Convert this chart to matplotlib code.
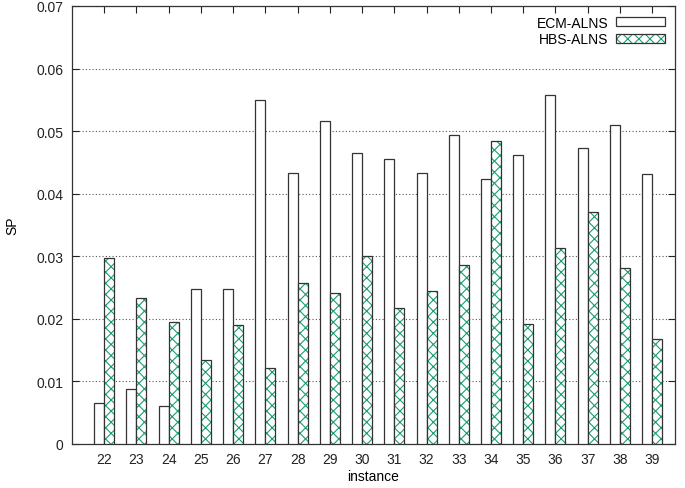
import numpy as np
import matplotlib.pyplot as plt
from matplotlib.patches import Patch
from matplotlib.legend_handler import HandlerTuple

plt.rcParams['font.family'] = ['Liberation Sans', 'DejaVu Sans']
plt.rcParams['hatch.linewidth'] = 0.8

instances = [22, 23, 24, 25, 26, 27, 28, 29, 30, 31, 32, 33, 34, 35, 36, 37, 38, 39]
ecm_alns = [0.0065, 0.0088, 0.0061, 0.0247, 0.0247, 0.0550, 0.0433, 0.0516, 0.0465,
            0.0456, 0.0433, 0.0494, 0.0424, 0.0462, 0.0557, 0.0473, 0.0510, 0.0431]
hbs_alns = [0.0297, 0.0233, 0.0195, 0.0135, 0.0190, 0.0122, 0.0257, 0.0241, 0.0300,
            0.0217, 0.0244, 0.0286, 0.0484, 0.0191, 0.0314, 0.0371, 0.0281, 0.0168]
yticks = [0, 0.01, 0.02, 0.03, 0.04, 0.05, 0.06, 0.07]
ytick_labels = ['0', '0.01', '0.02', '0.03', '0.04', '0.05', '0.06', '0.07']

green = '#1a9e6e'
dark = '#333333'

fig = plt.figure(figsize=(6.85, 4.89), dpi=100)
ax = fig.add_axes([0.105, 0.09, 0.88, 0.8957])

x = np.array(instances)
w = 0.31
ax.bar(x - w / 2, ecm_alns, w, color='white', edgecolor=dark, linewidth=0.9, zorder=3)
ax.bar(x + w / 2, hbs_alns, w, color='white', edgecolor=green, hatch='xxx',
       linewidth=0, zorder=3)
# dark outline on top of the hatched bars
ax.bar(x + w / 2, hbs_alns, w, fill=False, edgecolor=dark, linewidth=0.9, zorder=4)

ax.set_xlim(21, 39.7)
ax.set_ylim(0, 0.07)
ax.set_xticks(instances)
ax.set_xticklabels([str(i) for i in instances])
ax.set_yticks(yticks)
ax.set_yticklabels(ytick_labels)
ax.tick_params(direction='in', top=True, right=True, length=5, width=0.8,
               labelsize=10, colors='#222222', pad=6)
ax.grid(axis='y', linestyle=(0, (1, 2)), color='#555555', linewidth=0.8, zorder=1)
for s in ax.spines.values():
    s.set_color(dark)
    s.set_linewidth(0.9)

ax.set_xlabel('instance', fontsize=10, labelpad=2)
ax.set_ylabel('SP', fontsize=10, labelpad=12)

h_ecm = Patch(facecolor='white', edgecolor=dark, linewidth=0.9)
h_hbs = (Patch(facecolor='white', edgecolor=green, hatch='xxx', linewidth=0),
         Patch(fill=False, edgecolor=dark, linewidth=0.9))
ax.legend([h_ecm, h_hbs], ['ECM-ALNS', 'HBS-ALNS'], loc='upper right', frameon=False,
          markerfirst=False, fontsize=10, handlelength=3.5, handleheight=0.6,
          labelspacing=0.2, borderaxespad=0.3, handletextpad=0.6,
          handler_map={tuple: HandlerTuple(ndivide=1, pad=0)})

fig.savefig('out.png', dpi=100)
